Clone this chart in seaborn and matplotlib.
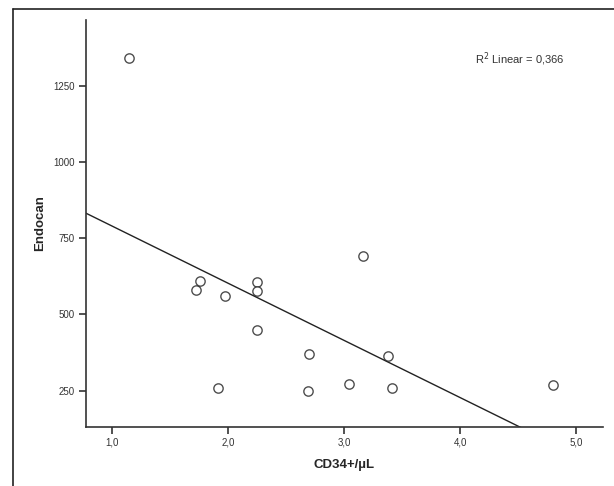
import matplotlib
matplotlib.use("Agg")
import matplotlib.pyplot as plt
import seaborn as sns
import pandas as pd
from matplotlib.lines import Line2D
from matplotlib.ticker import FuncFormatter

# values
cd34 = [1.14, 1.72, 1.76, 1.91, 1.97, 2.25, 2.25, 2.25, 2.69, 2.70, 3.04, 3.16, 3.38, 3.41, 4.80]
endocan = [1341, 579, 611, 257, 561, 606, 576, 450, 248, 369, 273, 691, 364, 257, 268]
x_ticks = [1.0, 2.0, 3.0, 4.0, 5.0]
y_ticks = [250, 500, 750, 1000, 1250]
r2_label = "R$^2$ Linear = 0,366"

df = pd.DataFrame({"CD34+/µL": cd34, "Endocan": endocan})

sns.set_style("white")
plt.rcParams["font.family"] = ["Liberation Sans", "DejaVu Sans"]

fig = plt.figure(figsize=(6.14, 4.86), dpi=100)
ax = fig.add_axes([0.140, 0.1224, 0.842, 0.8364])

ax.set_xlim(0.773, 5.23)
ax.set_ylim(132, 1467)

sns.regplot(
    data=df,
    x="CD34+/µL",
    y="Endocan",
    ci=None,
    truncate=False,
    ax=ax,
    scatter_kws={"s": 45, "facecolor": "white", "edgecolor": "#222222", "linewidths": 1.0, "zorder": 3},
    line_kws={"color": "#222222", "linewidth": 1.0},
)
ax.set_xlim(0.773, 5.23)
ax.set_ylim(132, 1467)

ax.set_xticks(x_ticks)
ax.set_yticks(y_ticks)
ax.xaxis.set_major_formatter(FuncFormatter(lambda v, p: f"{v:.1f}".replace(".", ",")))
ax.tick_params(axis="both", direction="out", length=5, width=1.2, color="#333333",
               labelsize=7, labelcolor="#333333", bottom=True, left=True, pad=3)

for side in ["top", "right"]:
    ax.spines[side].set_visible(False)
for side in ["left", "bottom"]:
    ax.spines[side].set_color("#333333")
    ax.spines[side].set_linewidth(1.2)

ax.set_xlabel("CD34+/µL", fontsize=9.5, fontweight="bold", labelpad=8)
ax.set_ylabel("Endocan", fontsize=9.5, fontweight="bold", labelpad=5)

ax.text(0.847, 0.879, r2_label, transform=fig.transFigure, ha="center", va="center",
        fontsize=8, color="#333333")

# outer frame (top and left edges only)
fig.add_artist(Line2D([13 / 614, 1.0], [1 - 9 / 486, 1 - 9 / 486], transform=fig.transFigure,
                      color="#222222", linewidth=1.2))
fig.add_artist(Line2D([13 / 614, 13 / 614], [0.0, 1 - 9 / 486], transform=fig.transFigure,
                      color="#222222", linewidth=1.2))

fig.savefig("out.png", dpi=100)
